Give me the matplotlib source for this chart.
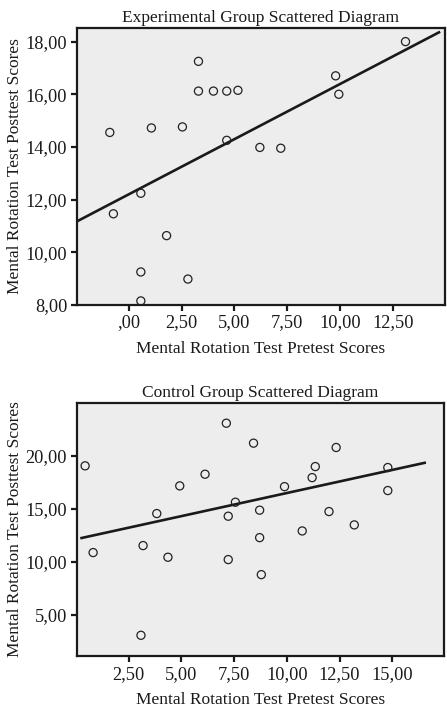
import numpy as np
import matplotlib
matplotlib.use("Agg")
import matplotlib.pyplot as plt

plt.rcParams['font.family'] = ['Liberation Serif', 'DejaVu Serif']

# experimental group (pretest, posttest)
exp_pre = [-0.90, 1.07, 2.54, 3.30, 3.30, 4.01, 4.64, 5.17, 4.64, 6.21,
           7.20, 9.80, 9.95, 13.11, 0.57, -0.73, 1.79, 0.57, 2.80, 0.57]
exp_post = [14.55, 14.72, 14.76, 17.25, 16.12, 16.12, 16.12, 16.15, 14.25, 13.98,
            13.95, 16.70, 16.00, 18.00, 12.24, 11.46, 10.63, 9.25, 8.98, 8.15]
exp_fit = (0.4186, 12.20)      # slope, intercept
exp_fit_x = [-2.5, 14.75]
exp_xticks = [0, 2.5, 5, 7.5, 10, 12.5]
exp_xlabels = [",00", "2,50", "5,00", "7,50", "10,00", "12,50"]
exp_yticks = [8, 10, 12, 14, 16, 18]
exp_ylabels = ["8,00", "10,00", "12,00", "14,00", "16,00", "18,00"]

# control group
ctl_pre = [0.43, 7.13, 8.42, 12.34, 6.12, 4.92, 11.35, 11.20, 14.79, 14.79,
           9.89, 3.83, 7.56, 7.22, 8.71, 12.00, 13.20, 10.73, 8.71, 0.81,
           3.18, 4.36, 7.22, 8.79, 3.08]
ctl_post = [19.06, 23.08, 21.20, 20.79, 18.27, 17.17, 18.99, 17.95, 18.90, 16.73,
            17.10, 14.56, 15.63, 14.31, 14.88, 14.75, 13.49, 12.92, 12.29, 10.88,
            11.54, 10.44, 10.22, 8.80, 3.08]
ctl_fit = (0.4356, 12.14)
ctl_fit_x = [0.2, 16.6]
ctl_xticks = [2.5, 5, 7.5, 10, 12.5, 15]
ctl_xlabels = ["2,50", "5,00", "7,50", "10,00", "12,50", "15,00"]
ctl_yticks = [5, 10, 15, 20]
ctl_ylabels = ["5,00", "10,00", "15,00", "20,00"]

fig = plt.figure(figsize=(4.47, 7.09), dpi=100)
ax1 = fig.add_axes([0.172, 0.570, 0.823, 0.391])
ax2 = fig.add_axes([0.172, 0.0748, 0.821, 0.357])


def draw(ax, pre, post, fit, fit_x, xlim, ylim, xt, xl, yt, yl, title):
    ax.set_facecolor("#ededed")
    ax.scatter(pre, post, s=34, facecolors="none", edgecolors="#222222",
               linewidths=0.9, zorder=3)
    fx = np.array(fit_x)
    ax.plot(fx, fit[0] * fx + fit[1], color="#1a1a1a", lw=1.9, zorder=2,
            solid_capstyle="butt")
    ax.set_xlim(*xlim)
    ax.set_ylim(*ylim)
    ax.set_xticks(xt)
    ax.set_xticklabels(xl)
    ax.set_yticks(yt)
    ax.set_yticklabels(yl)
    for s in ax.spines.values():
        s.set_linewidth(1.6)
        s.set_color("#1a1a1a")
    ax.tick_params(direction="out", length=4, width=1.6, labelsize=13.2,
                   colors="#1a1a1a", pad=3)
    ax.set_title(title, fontsize=12.5, pad=4, color="#1a1a1a")
    ax.set_xlabel("Mental Rotation Test Pretest Scores", fontsize=12.5, labelpad=7,
                  color="#1a1a1a")
    ax.set_ylabel("Mental Rotation Test Posttest Scores", fontsize=12.5, labelpad=2,
                  color="#1a1a1a")


draw(ax1, exp_pre, exp_post, exp_fit, exp_fit_x, (-2.46, 14.97), (8.0, 18.53),
     exp_xticks, exp_xlabels, exp_yticks, exp_ylabels,
     "Experimental Group Scattered Diagram")
draw(ax2, ctl_pre, ctl_post, ctl_fit, ctl_fit_x, (0.04, 17.45), (1.13, 25.0),
     ctl_xticks, ctl_xlabels, ctl_yticks, ctl_ylabels,
     "Control Group Scattered Diagram")

fig.savefig("out.png", dpi=100)
